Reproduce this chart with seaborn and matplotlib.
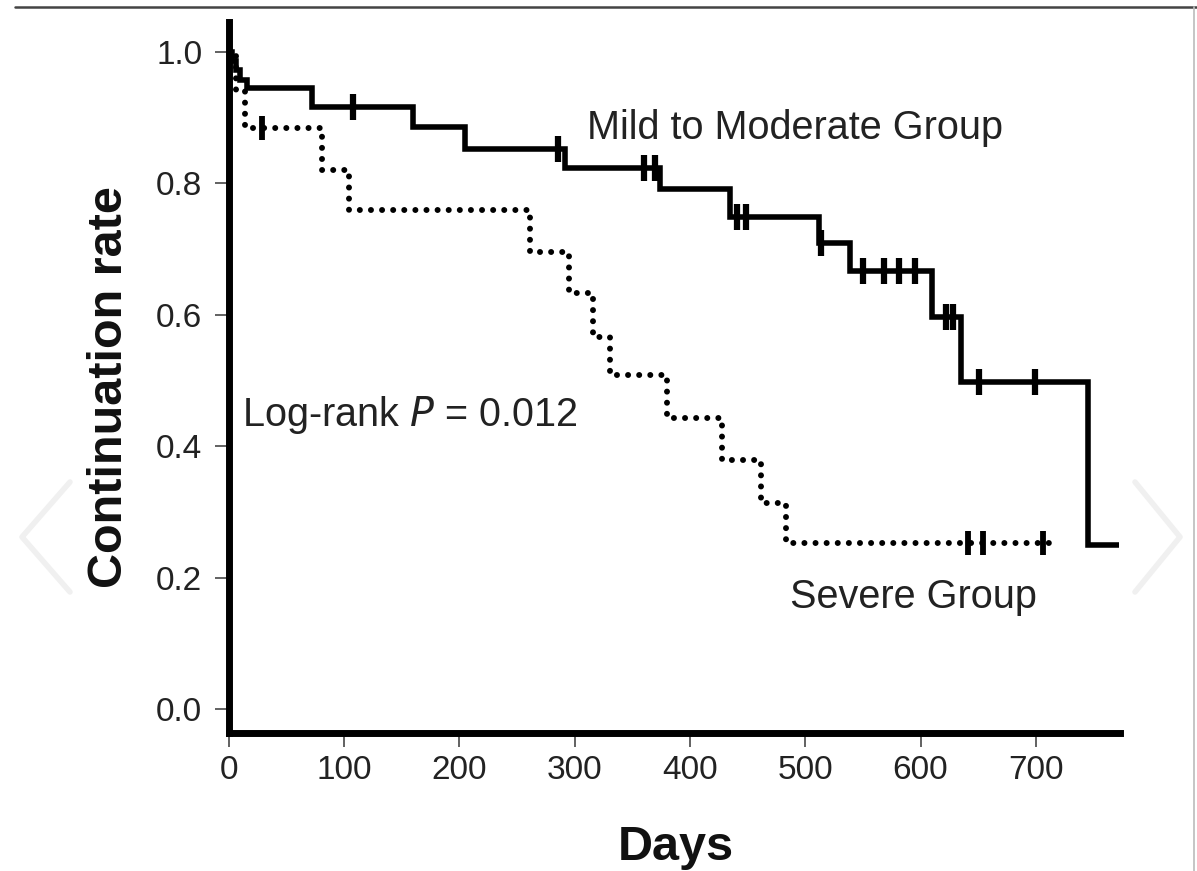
import numpy as np
import pandas as pd
import seaborn as sns
import matplotlib
matplotlib.use("Agg")
import matplotlib.pyplot as plt
from matplotlib.lines import Line2D

# ---- data ----
mild_times = [0, 3, 6, 10, 16, 72, 160, 205, 292, 374, 435, 512, 539, 610, 635, 745, 772]
mild_surv = [1.0, 0.986, 0.972, 0.958, 0.945, 0.916, 0.886, 0.853, 0.823, 0.791,
             0.749, 0.709, 0.666, 0.597, 0.498, 0.250, 0.250]
mild_censor = [108, 286, 360, 370, 441, 449, 514, 550, 568, 581, 595, 622, 628, 651, 699]

severe_times = [0, 6, 14, 81, 104, 261, 295, 316, 331, 380, 428, 462, 483, 714]
severe_surv = [1.0, 0.94, 0.884, 0.820, 0.760, 0.696, 0.633, 0.566, 0.508, 0.443,
               0.379, 0.314, 0.253, 0.253]
severe_censor = [29, 641, 654, 706]

x_ticks = [0, 100, 200, 300, 400, 500, 600, 700]
y_ticks = [0.0, 0.2, 0.4, 0.6, 0.8, 1.0]
y_tick_labels = ["0.0", "0.2", "0.4", "0.6", "0.8", "1.0"]


def censor_levels(times, surv, cens):
    idx = np.searchsorted(np.asarray(times), np.asarray(cens), side="right") - 1
    return list(np.asarray(surv)[idx])


sns.set_theme(style="white")
plt.rcParams["font.family"] = ["Liberation Sans", "DejaVu Sans"]

fig = plt.figure(figsize=(11.97, 8.71), dpi=100)
ax = fig.add_axes([228.6 / 1197, 1 - 733 / 871, (1120 - 228.6) / 1197, (733 - 22) / 871])

mild_df = pd.DataFrame({"Days": mild_times, "rate": mild_surv})
sev_df = pd.DataFrame({"Days": severe_times, "rate": severe_surv})

sns.lineplot(data=mild_df, x="Days", y="rate", ax=ax, color="black", lw=4,
             drawstyle="steps-post", sort=False, estimator=None,
             solid_joinstyle="miter", solid_capstyle="butt")
sns.lineplot(data=sev_df, x="Days", y="rate", ax=ax, color="black", lw=4.3,
             drawstyle="steps-post", sort=False, estimator=None,
             linestyle=(0, (0.01, 1.85)), dash_capstyle="round")

mc = pd.DataFrame({"Days": mild_censor,
                   "rate": censor_levels(mild_times, mild_surv, mild_censor)})
sc = pd.DataFrame({"Days": severe_censor,
                   "rate": censor_levels(severe_times, severe_surv, severe_censor)})
sns.scatterplot(data=mc, x="Days", y="rate", ax=ax, marker="|", s=330,
                linewidth=4.5, color="black", zorder=5)
sns.scatterplot(data=sc, x="Days", y="rate", ax=ax, marker="|", s=300,
                linewidth=4.2, color="black", zorder=5)

ax.set_xlim(0, 773)
ax.set_ylim(-0.0365, 1.0457)
ax.set_xticks(x_ticks)
ax.set_yticks(y_ticks)
ax.set_yticklabels(y_tick_labels)

for s in ["top", "right"]:
    ax.spines[s].set_visible(False)
for s in ["left", "bottom"]:
    ax.spines[s].set_linewidth(5)
    ax.spines[s].set_color("black")

ax.tick_params(axis="both", which="major", direction="out", length=10, width=1.3,
               color="#555555", labelsize=24, labelcolor="#222222",
               left=True, bottom=True)
ax.tick_params(axis="y", pad=9)
ax.tick_params(axis="x", pad=6)

ax.set_ylabel("Continuation rate", fontsize=35, fontweight="bold", color="#111111")
ax.set_xlabel("Days", fontsize=35, fontweight="bold", color="#111111")
ax.yaxis.set_label_coords(-0.108, 0.487)
ax.xaxis.set_label_coords(0.502, -0.13)

ax.text(311, 0.884, "Mild to Moderate Group", fontsize=28.5, color="#222222",
        va="center", ha="left")
ax.text(487, 0.170, "Severe Group", fontsize=28.5, color="#222222",
        va="center", ha="left")
ax.text(11.6, 0.447, "Log-rank $\\it{P}$ = 0.012", fontsize=28.5, color="#222222",
        va="center", ha="left")

# page frame and faint carousel arrows of the screenshot
W, H = 1197, 871
fig.add_artist(Line2D([15 / W, 1], [1 - 7 / H, 1 - 7 / H], color="#444444", lw=1.8))
fig.add_artist(Line2D([1194 / W, 1194 / W], [0, 1 - 7 / H], color="#bbbbbb", lw=1.2))
fig.add_artist(Line2D([70 / W, 22 / W, 70 / W], [1 - 482 / H, 1 - 537 / H, 1 - 592 / H],
                      color="#f0f0f0", lw=4))
fig.add_artist(Line2D([1135 / W, 1180 / W, 1135 / W], [1 - 482 / H, 1 - 537 / H, 1 - 592 / H],
                      color="#f0f0f0", lw=4))

fig.savefig("out.png", dpi=100, facecolor="white")
